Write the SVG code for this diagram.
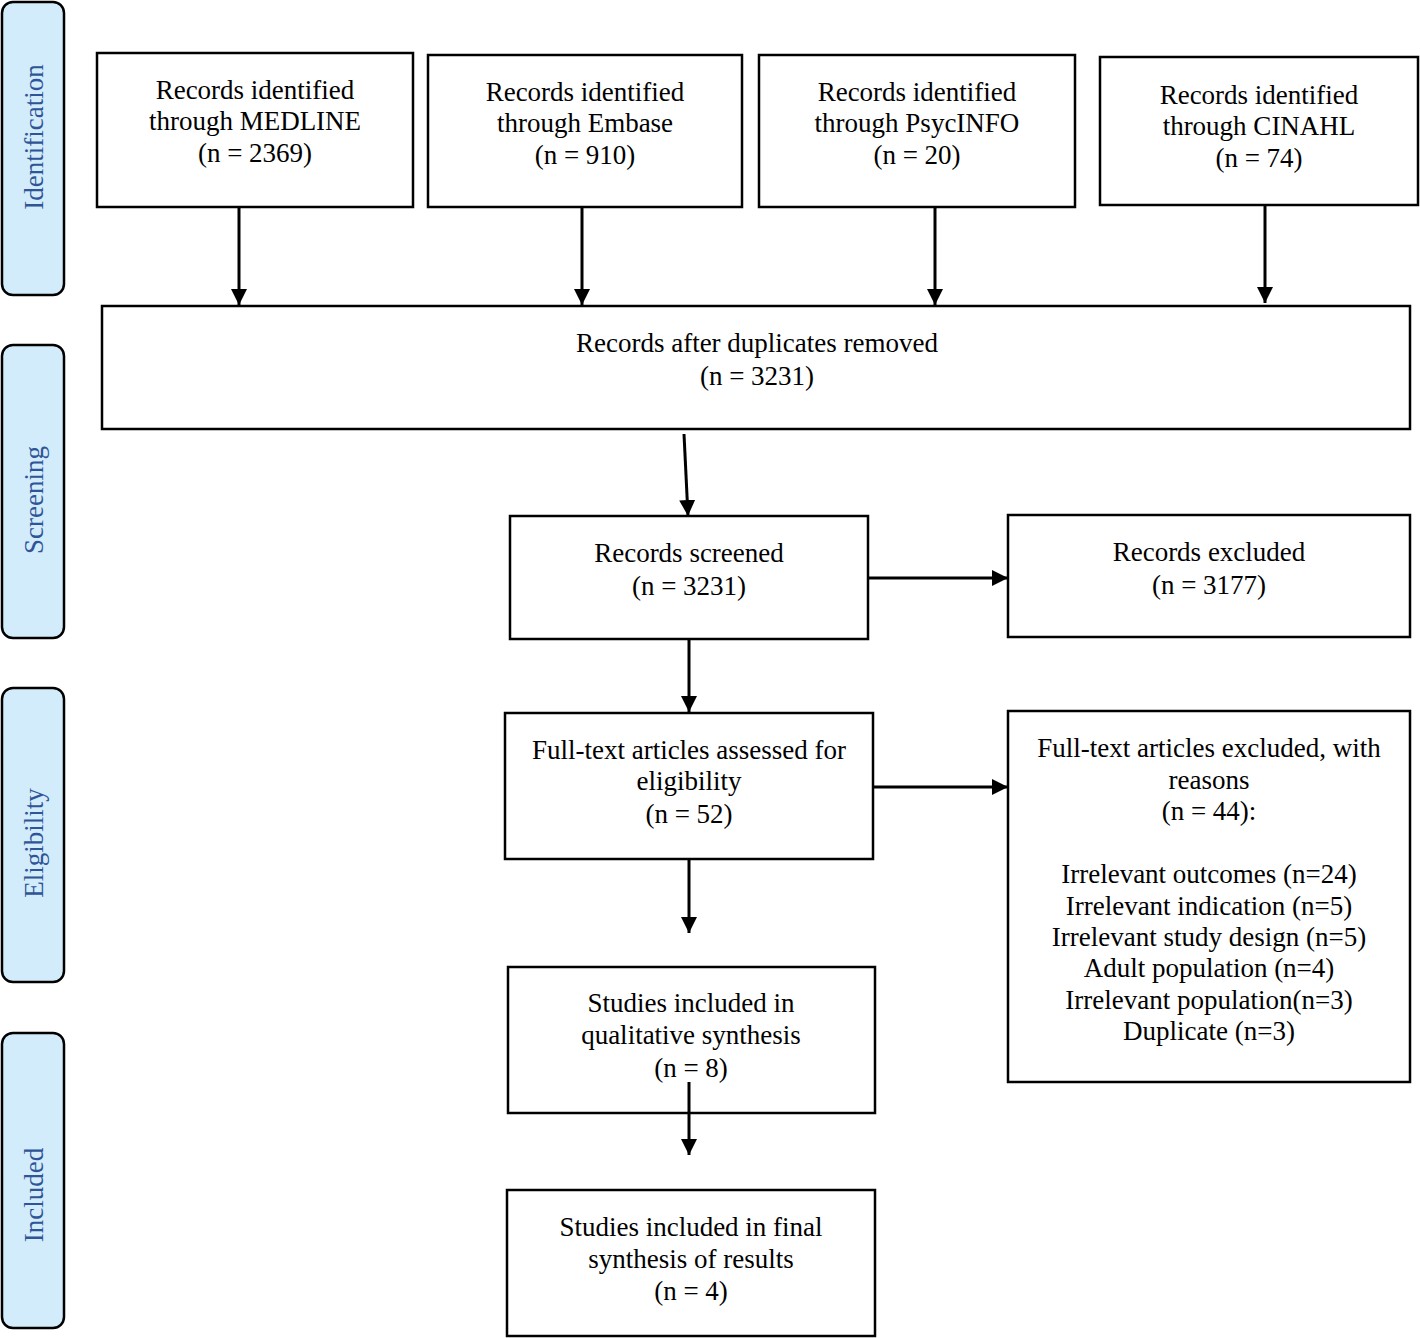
<svg xmlns="http://www.w3.org/2000/svg" width="1420" height="1338" viewBox="0 0 1420 1338">
<style>
.box{fill:#fff;stroke:#000;stroke-width:2.5}
.side{fill:#d2ecfb;stroke:#000;stroke-width:2.5}
.t{font-family:"Liberation Serif","Times New Roman",serif;font-size:27px;fill:#000;text-anchor:middle}
.s{font-family:"Liberation Serif","Times New Roman",serif;font-size:27px;fill:#2f5597;text-anchor:middle}
.c{stroke:#000;stroke-width:3;fill:none;marker-end:url(#ah)}
</style>
<defs>
<marker id="ah" markerUnits="userSpaceOnUse" markerWidth="16" markerHeight="16" refX="16" refY="8" orient="auto" viewBox="0 0 16 16">
<path d="M0,0 L16,8 L0,16 z" fill="#000"/>
</marker>
</defs>
<rect width="1420" height="1338" fill="#fff"/>
<g id="side-identification"><rect class="side" x="2" y="2" width="62" height="293" rx="11"/><text class="s" transform="translate(43,137) rotate(-90)">Identification</text></g>
<g id="side-screening"><rect class="side" x="2" y="345" width="62" height="293" rx="11"/><text class="s" transform="translate(43,500) rotate(-90)">Screening</text></g>
<g id="side-eligibility"><rect class="side" x="2" y="688" width="62" height="294" rx="11"/><text class="s" transform="translate(43,843) rotate(-90)">Eligibility</text></g>
<g id="side-included"><rect class="side" x="2" y="1033" width="62" height="295" rx="11"/><text class="s" transform="translate(43,1195) rotate(-90)">Included</text></g>

<g id="medline"><rect class="box" x="97" y="53" width="316" height="154"/><text class="t" x="255" y="99">Records identified</text><text class="t" x="255" y="130">through MEDLINE</text><text class="t" x="255" y="162">(n = 2369)</text></g>
<g id="embase"><rect class="box" x="428" y="55" width="314" height="152"/><text class="t" x="585" y="101">Records identified</text><text class="t" x="585" y="132">through Embase</text><text class="t" x="585" y="164">(n = 910)</text></g>
<g id="psycinfo"><rect class="box" x="759" y="55" width="316" height="152"/><text class="t" x="917" y="101">Records identified</text><text class="t" x="917" y="132">through PsycINFO</text><text class="t" x="917" y="164">(n = 20)</text></g>
<g id="cinahl"><rect class="box" x="1100" y="57" width="318" height="148"/><text class="t" x="1259" y="104">Records identified</text><text class="t" x="1259" y="135">through CINAHL</text><text class="t" x="1259" y="167">(n = 74)</text></g>
<g id="duplicates"><rect class="box" x="102" y="306" width="1308" height="123"/><text class="t" x="757" y="352">Records after duplicates removed</text><text class="t" x="757" y="385">(n = 3231)</text></g>
<g id="screened"><rect class="box" x="510" y="516" width="358" height="123"/><text class="t" x="689" y="562">Records screened</text><text class="t" x="689" y="595">(n = 3231)</text></g>
<g id="excluded"><rect class="box" x="1008" y="515" width="402" height="122"/><text class="t" x="1209" y="561">Records excluded</text><text class="t" x="1209" y="594">(n = 3177)</text></g>
<g id="fulltext"><rect class="box" x="505" y="713" width="368" height="146"/><text class="t" x="689" y="759">Full-text articles assessed for</text><text class="t" x="689" y="790">eligibility</text><text class="t" x="689" y="823">(n = 52)</text></g>
<g id="fulltext-excluded"><rect class="box" x="1008" y="711" width="402" height="371"/>
<text class="t" x="1209" y="757">Full-text articles excluded, with</text>
<text class="t" x="1209" y="789">reasons</text>
<text class="t" x="1209" y="820">(n = 44):</text>
<text class="t" x="1209" y="883">Irrelevant outcomes (n=24)</text>
<text class="t" x="1209" y="915">Irrelevant indication (n=5)</text>
<text class="t" x="1209" y="946">Irrelevant study design (n=5)</text>
<text class="t" x="1209" y="977">Adult population (n=4)</text>
<text class="t" x="1209" y="1009">Irrelevant population(n=3)</text>
<text class="t" x="1209" y="1040">Duplicate (n=3)</text></g>
<g id="qualitative"><rect class="box" x="508" y="967" width="367" height="146"/><text class="t" x="691" y="1012">Studies included in</text><text class="t" x="691" y="1044">qualitative synthesis</text><text class="t" x="691" y="1077">(n = 8)</text></g>
<g id="final"><rect class="box" x="507" y="1190" width="368" height="146"/><text class="t" x="691" y="1236">Studies included in final</text><text class="t" x="691" y="1268">synthesis of results</text><text class="t" x="691" y="1300">(n = 4)</text></g>

<g id="connectors">
<line class="c" x1="239" y1="207" x2="239" y2="305"/>
<line class="c" x1="582" y1="207" x2="582" y2="305"/>
<line class="c" x1="935" y1="207" x2="935" y2="305"/>
<line class="c" x1="1265" y1="205" x2="1265" y2="303"/>
<line class="c" x1="684" y1="434" x2="688" y2="516"/>
<line class="c" x1="868" y1="578" x2="1008" y2="578"/>
<line class="c" x1="689" y1="639" x2="689" y2="712"/>
<line class="c" x1="873" y1="787" x2="1008" y2="787"/>
<line class="c" x1="689" y1="860" x2="689" y2="933"/>
<line class="c" x1="689" y1="1082" x2="689" y2="1155"/>
</g>
</svg>
